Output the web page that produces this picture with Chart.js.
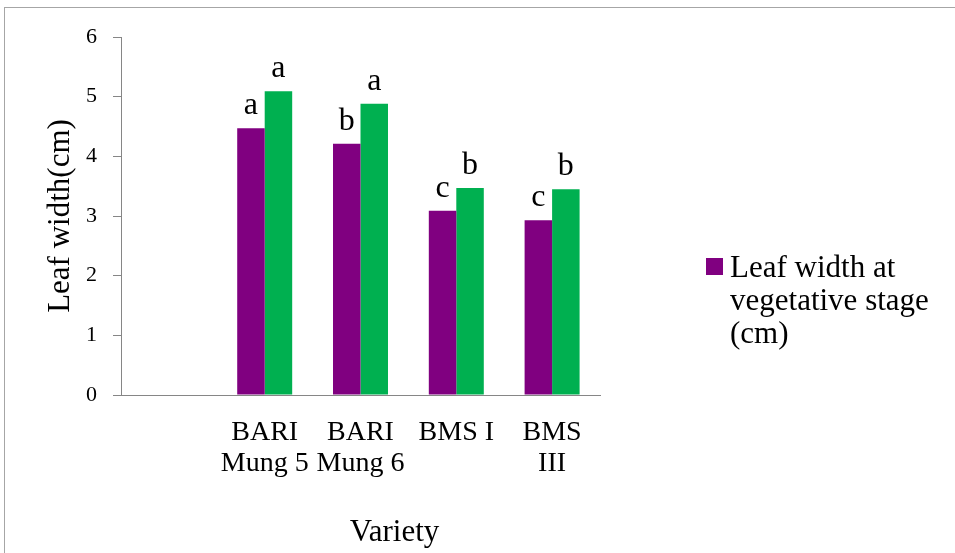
<!DOCTYPE html>
<html>
<head>
<meta charset="utf-8">
<script src="https://cdn.jsdelivr.net/npm/chart.js@4/dist/chart.umd.min.js"></script>
<style>
  html, body { margin: 0; padding: 0; background: #fff; }
  #wrap { position: relative; width: 955px; height: 553px; }
</style>
</head>
<body>
<div id="wrap"><canvas id="chart" width="955" height="553"></canvas></div>
<script>
// data
var categories = ['', ['BARI', 'Mung 5'], ['BARI', 'Mung 6'], 'BMS I', ['BMS', 'III']];
var vegetativeWidth = [null, 4.47, 4.21, 3.09, 2.93];
var laterWidth = [null, 5.09, 4.88, 3.47, 3.45];
var vegetativeLetters = ['', 'a', 'b', 'c', 'c'];
var laterLetters = ['', 'a', 'a', 'b', 'b'];
var yTicks = ['0', '1', '2', '3', '4', '5', '6'];

var serif = '"Liberation Serif", "Times New Roman", serif';
var axisGrey = '#868686';

Chart.defaults.font.family = serif;

// letters above the bars, frame, x title and legend
var extrasPlugin = {
    id: 'extras',
    beforeDraw: function (chart) {
        var ctx = chart.ctx;
        ctx.save();
        ctx.strokeStyle = '#a6a6a6';
        ctx.lineWidth = 1;
        ctx.strokeRect(4.5, 7.5, chart.width + 20, chart.height + 20);
        ctx.restore();
    },
    afterDatasetsDraw: function (chart) {
        var ctx = chart.ctx;
        var letterSets = [vegetativeLetters, laterLetters];
        ctx.save();
        ctx.fillStyle = '#000';
        ctx.font = '32px ' + serif;
        ctx.textAlign = 'center';
        ctx.textBaseline = 'alphabetic';
        letterSets.forEach(function (letters, di) {
            chart.getDatasetMeta(di).data.forEach(function (bar, i) {
                if (!letters[i]) return;
                ctx.fillText(letters[i], bar.x, bar.y - 14);
            });
        });

        // x axis title
        var area = chart.chartArea;
        ctx.font = '31px ' + serif;
        ctx.fillText('Variety', (area.left + area.right) / 2 + 34, 541);

        // legend (first series only)
        var ds = chart.data.datasets[0];
        ctx.fillStyle = ds.backgroundColor;
        ctx.fillRect(706, 258, 17, 17);
        ctx.fillStyle = '#000';
        ctx.textAlign = 'left';
        ctx.font = '31px ' + serif;
        var words = ds.label.split(' ');
        var lines = [];
        var line = '';
        words.forEach(function (w) {
            var test = line ? line + ' ' + w : w;
            if (ctx.measureText(test).width > 215 && line) {
                lines.push(line);
                line = w;
            } else {
                line = test;
            }
        });
        lines.push(line);
        lines.forEach(function (l, k) {
            ctx.fillText(l, 730, 277 + k * 33);
        });
        ctx.restore();
    }
};

var ctx = document.getElementById('chart').getContext('2d');
var chart = new Chart(ctx, {
    type: 'bar',
    data: {
        labels: categories,
        datasets: [{
            label: 'Leaf width at vegetative stage (cm)',
            data: vegetativeWidth,
            backgroundColor: '#800080'
        }, {
            label: 'Leaf width at later stage (cm)',
            data: laterWidth,
            backgroundColor: '#00b050'
        }]
    },
    options: {
        responsive: false,
        animation: false,
        layout: { padding: { top: 37, right: 355, left: 0, bottom: 0 } },
        datasets: {
            bar: { categoryPercentage: 0.574, barPercentage: 1 }
        },
        plugins: {
            legend: { display: false },
            tooltip: { enabled: false }
        },
        scales: {
            x: {
                grid: { display: false, drawTicks: false },
                border: { display: true, color: axisGrey, width: 1 },
                ticks: {
                    color: '#000',
                    font: { family: serif, size: 28, lineHeight: 1.1 },
                    padding: 22,
                    autoSkip: false,
                    maxRotation: 0,
                    minRotation: 0
                },
                afterFit: function (scale) { scale.height = 158; }
            },
            y: {
                min: 0,
                max: 6,
                grid: {
                    drawOnChartArea: false,
                    drawTicks: true,
                    tickLength: 8,
                    color: axisGrey
                },
                border: { display: true, color: axisGrey, width: 1 },
                ticks: {
                    stepSize: 1,
                    color: '#000',
                    font: { family: serif, size: 22 },
                    padding: 16,
                    callback: function (value, index) { return yTicks[index]; }
                },
                title: {
                    display: true,
                    text: 'Leaf width(cm)',
                    color: '#000',
                    font: { family: serif, size: 31 },
                    padding: { top: 42, bottom: 0 }
                },
                afterFit: function (scale) { scale.width = 121; }
            }
        }
    },
    plugins: [extrasPlugin]
});
</script>
</body>
</html>
